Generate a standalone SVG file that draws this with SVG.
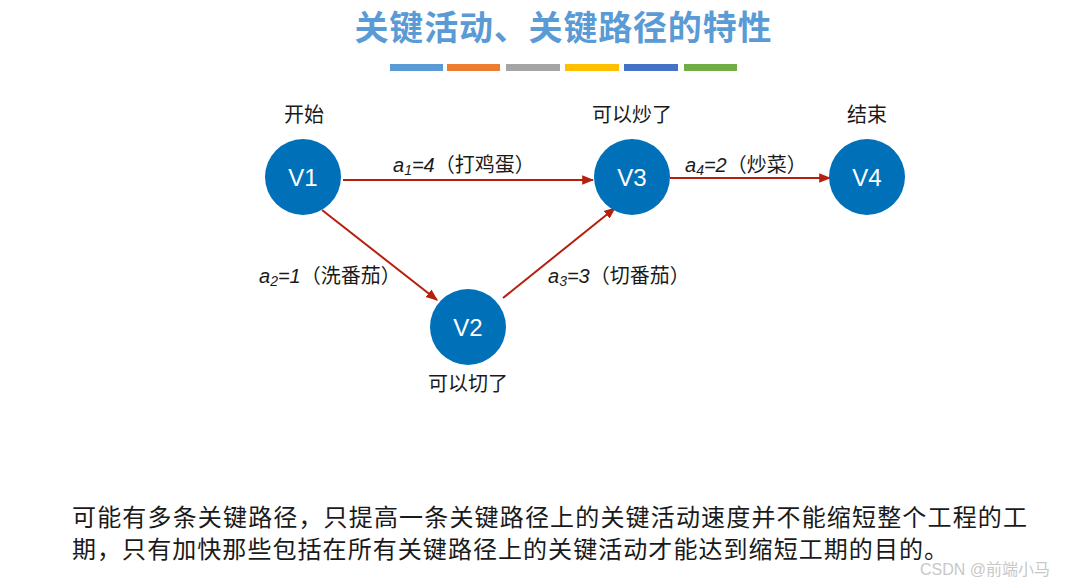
<svg xmlns="http://www.w3.org/2000/svg" width="1082" height="585" viewBox="0 0 1082 585">
<style>
.cn{font-family:"Liberation Sans","Noto Sans CJK SC",sans-serif;fill:#1a1a1a}
.lbl{font-size:20px}
.el{font-size:20px}
.nt{font-family:"Liberation Sans",Arial,sans-serif;font-size:24px;fill:#fff;text-anchor:middle}
.node{fill:#0071b9}
.edge{stroke:#b5200e;stroke-width:2;fill:none}
</style>
<defs>
<marker id="ah" viewBox="0 0 10 10" refX="9" refY="5" markerWidth="6" markerHeight="6" orient="auto" markerUnits="strokeWidth">
<path d="M0,1 L10,5 L0,9 z" fill="#b5200e"/>
</marker>
</defs>
<rect width="1082" height="585" fill="#fff"/>
<text x="563" y="40" text-anchor="middle" font-family="'Noto Sans CJK SC',sans-serif" font-size="34" font-weight="bold" fill="#5b9bd5" textLength="417" lengthAdjust="spacing">关键活动、关键路径的特性</text>
<g id="bars">
<rect x="390" y="64" width="53" height="7" fill="#5b9bd5"/>
<rect x="447" y="64" width="53" height="7" fill="#ed7d31"/>
<rect x="506" y="64" width="54" height="7" fill="#a5a5a5"/>
<rect x="565" y="64" width="54" height="7" fill="#ffc000"/>
<rect x="624" y="64" width="54" height="7" fill="#4472c4"/>
<rect x="684" y="64" width="53" height="7" fill="#70ad47"/>
</g>
<g id="connectors">
<line class="edge" x1="343" y1="180" x2="593" y2="180" marker-end="url(#ah)"/>
<line class="edge" x1="322" y1="210" x2="437" y2="300" marker-end="url(#ah)"/>
<line class="edge" x1="503" y1="298" x2="615" y2="208" marker-end="url(#ah)"/>
<line class="edge" x1="670" y1="178" x2="830" y2="178" marker-end="url(#ah)"/>
<text class="cn el" x="393" y="172"><tspan font-style="italic">a<tspan font-size="14" dy="3">1</tspan><tspan dy="-3">=4</tspan></tspan>（打鸡蛋）</text>
<text class="cn el" x="259" y="283"><tspan font-style="italic">a<tspan font-size="14" dy="3">2</tspan><tspan dy="-3">=1</tspan></tspan>（洗番茄）</text>
<text class="cn el" x="548" y="283"><tspan font-style="italic">a<tspan font-size="14" dy="3">3</tspan><tspan dy="-3">=3</tspan></tspan>（切番茄）</text>
<text class="cn el" x="685" y="172"><tspan font-style="italic">a<tspan font-size="14" dy="3">4</tspan><tspan dy="-3">=2</tspan></tspan>（炒菜）</text>
</g>
<g id="V1">
<circle class="node" cx="303" cy="177" r="38"/>
<text class="nt" x="303" y="186">V1</text>
<text class="cn lbl" x="304" y="122" text-anchor="middle">开始</text>
</g>
<g id="V2">
<circle class="node" cx="468" cy="327" r="38"/>
<text class="nt" x="468" y="336">V2</text>
<text class="cn lbl" x="468" y="391" text-anchor="middle">可以切了</text>
</g>
<g id="V3">
<circle class="node" cx="632" cy="177" r="38"/>
<text class="nt" x="632" y="186">V3</text>
<text class="cn lbl" x="632" y="122" text-anchor="middle">可以炒了</text>
</g>
<g id="V4">
<circle class="node" cx="867" cy="177" r="38"/>
<text class="nt" x="867" y="186">V4</text>
<text class="cn lbl" x="867" y="122" text-anchor="middle">结束</text>
</g>
<text class="cn" x="72" y="526" font-size="24" textLength="955" lengthAdjust="spacing">可能有多条关键路径，只提高一条关键路径上的关键活动速度并不能缩短整个工程的工</text>
<text class="cn" x="72" y="558" font-size="24" textLength="876" lengthAdjust="spacing">期，只有加快那些包括在所有关键路径上的关键活动才能达到缩短工期的目的。</text>
<text x="920" y="575" font-family="'Liberation Sans','Noto Sans CJK SC',sans-serif" font-size="16" fill="#c8c8c8">CSDN @前端小马</text>
</svg>
